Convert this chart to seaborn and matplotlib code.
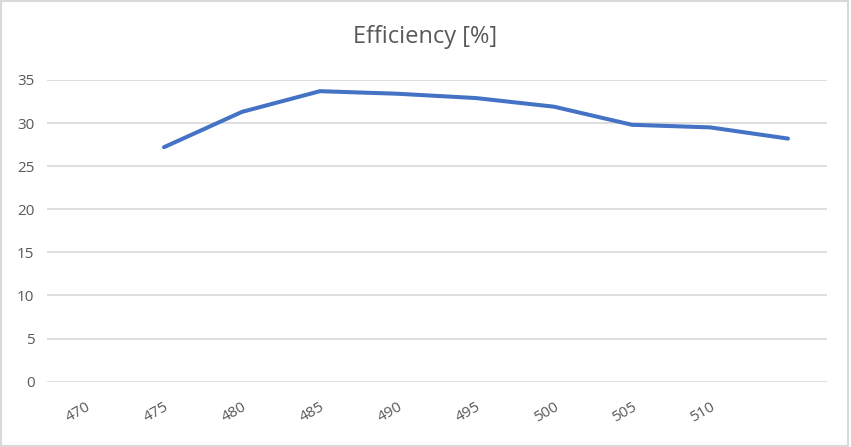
import matplotlib
matplotlib.use("Agg")
import matplotlib.pyplot as plt
import seaborn as sns
import numpy as np
import pandas as pd

categories = ["470", "475", "480", "485", "490", "495", "500", "505", "510", ""]
efficiency = [np.nan, 27.2, 31.3, 33.7, 33.4, 32.9, 31.9, 29.8, 29.5, 28.2]
title = "Efficiency [%]"

sns.set_theme(style="white")
plt.rcParams["font.family"] = ["Open Sans", "DejaVu Sans"]

df = pd.DataFrame({"idx": np.arange(len(categories)), "eff": efficiency})

fig = plt.figure(figsize=(8.51, 4.47), dpi=100)
fig.patch.set_facecolor("white")
ax = fig.add_axes([0.0552, 0.1461, 0.9166, 0.675])

sns.lineplot(data=df, x="idx", y="eff", ax=ax, color="#4472C4", linewidth=2.9,
             solid_capstyle="round", solid_joinstyle="round")

ax.set_xlim(-0.5, len(categories) - 0.5)
ax.set_ylim(0, 35)
ax.set_yticks(range(0, 36, 5))
ax.set_xticks(df["idx"])
ax.set_xticklabels(categories, rotation=30, ha="right", rotation_mode="anchor")
ax.tick_params(axis="x", colors="#595959", labelsize=11, length=0, pad=13)
ax.tick_params(axis="y", colors="#595959", labelsize=11, length=0, pad=9)
ax.grid(axis="y", color="#D9D9D9", linewidth=1.2)
ax.grid(axis="x", visible=False)
for s in ax.spines.values():
    s.set_visible(False)
ax.set_xlabel("")
ax.set_ylabel("")
ax.set_axisbelow(True)

fig.text(0.5, 0.918, title, ha="center", va="center", fontsize=17, color="#595959")

border = plt.Rectangle((0.001, 0.003), 0.996, 0.994, transform=fig.transFigure,
                       fill=False, edgecolor="#D9D9D9", linewidth=1.5)
fig.patches.append(border)

fig.savefig("out.png", dpi=100)
